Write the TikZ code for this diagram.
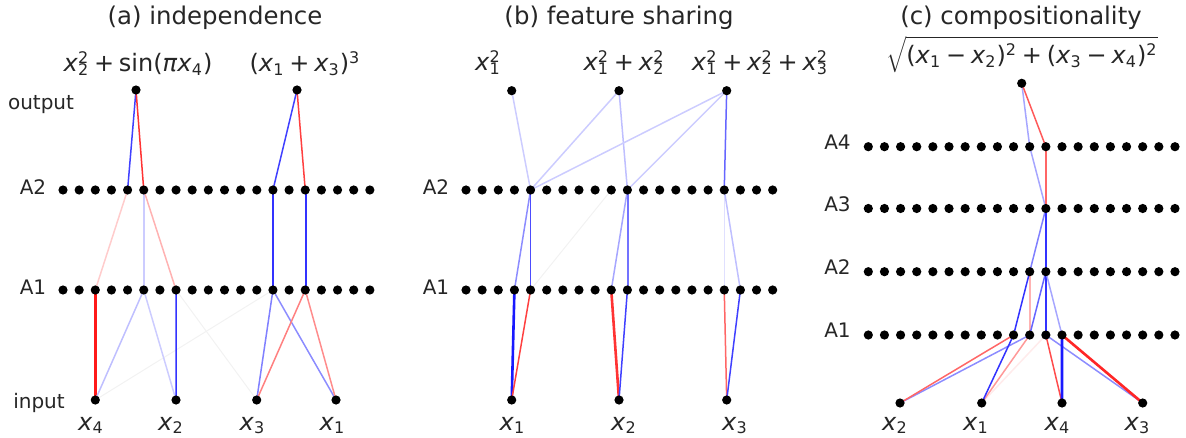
\documentclass[tikz,border=0pt]{standalone}
\usepackage{fontspec}
\setmainfont{DejaVu Sans}
\usepackage{tikz}
\usetikzlibrary{backgrounds}

\newcommand{\xs}[1]{\textit{x}\textsubscript{#1}}
\newcommand{\xsq}[1]{\textit{x}\rlap{\textsuperscript{2}}\textsubscript{#1}}
\newcommand{\bop}[1]{\hspace{0.2em}#1\hspace{0.2em}}

\tikzset{
  dot/.style={circle,fill=black,inner sep=0pt,minimum size=4.6pt},
  lbl/.style={font=\fontsize{10}{12}\selectfont,text=black!85},
  ttl/.style={font=\fontsize{12.2}{14}\selectfont,text=black!85},
  fml/.style={font=\fontsize{12}{14}\selectfont,text=black!85,anchor=base},
  pw/.style={draw=red!#1!white,line width=0.75pt},
  nw/.style={draw=blue!#1!white,line width=0.75pt},
  strong/.style={line width=1.3pt},
  ghost/.style={draw=black!5,line width=0.5pt}
}

\begin{document}
\begin{tikzpicture}[x=0.5pt,y=-0.5pt]
  \useasboundingbox (0,0) rectangle (1186,438);

  % (a) independence
  \node[ttl] (atitle) at (215,18) {(a) independence};
  \foreach \i in {0,...,19} {
    \node[dot] (aL2-\i) at ({63+\i*16.15},190) {};
    \node[dot] (aL1-\i) at ({63+\i*16.15},290) {};
  }
  \node[dot] (aout1) at (136,90) {};
  \node[dot] (aout2) at (297,90) {};
  \node[dot] (ax4) at (95.3,400) {};
  \node[dot] (ax2) at (176,400) {};
  \node[dot] (ax3) at (256.7,400) {};
  \node[dot] (ax1) at (336,400) {};

  \node[lbl] (aoutlbl) at (41,105) {output};
  \node[lbl] (aA2) at (33,187) {A2};
  \node[lbl] (aA1) at (33,287.5) {A1};
  \node[lbl,anchor=base] (ainlbl) at (39,408) {input};
  \node[fml] (af1) at (138,72) {\xsq{2}\bop{+}sin(\textit{π}\xs{4})};
  \node[fml] (af2) at (305,72) {(\xs{1}\bop{+}\xs{3})\textsuperscript{3}};
  \node[fml] (ax4l) at (91,430) {\xs{4}};
  \node[fml] (ax2l) at (171,430) {\xs{2}};
  \node[fml] (ax3l) at (252.5,430) {\xs{3}};
  \node[fml] (ax1l) at (332.5,430) {\xs{1}};

  \begin{scope}[on background layer]
  \draw[ghost] (ax4.center) -- (aL1-13.center);
  \draw[ghost] (aL1-7.center) -- (ax3.center);
  \draw[nw=75] (aout1.center) -- (aL2-4.center);
  \draw[pw=80] (aout1.center) -- (aL2-5.center);
  \draw[nw=75] (aout2.center) -- (aL2-13.center);
  \draw[pw=75] (aout2.center) -- (aL2-15.center);
  \draw[pw=20] (aL2-4.center) -- (aL1-2.center);
  \draw[nw=20] (aL2-5.center) -- (aL1-5.center);
  \draw[pw=30] (aL2-5.center) -- (aL1-7.center);
  \draw[nw=80] (aL2-13.center) -- (aL1-13.center);
  \draw[nw=80] ([xshift=0.25pt]aL2-15.center) -- ([xshift=0.25pt]aL1-15.center);
  \draw[pw=90,strong] (aL1-2.center) -- (ax4.center);
  \draw[nw=25] (aL1-5.center) -- (ax4.center);
  \draw[nw=20] (aL1-5.center) -- (ax2.center);
  \draw[nw=80] (aL1-7.center) -- (ax2.center);
  \draw[nw=50] (aL1-13.center) -- (ax3.center);
  \draw[nw=45] (aL1-13.center) -- (ax1.center);
  \draw[pw=50] (aL1-15.center) -- (ax3.center);
  \draw[pw=45] (aL1-15.center) -- (ax1.center);
  \end{scope}

  % (b) feature sharing
  \node[ttl] (btitle) at (619,18) {(b) feature sharing};
  \foreach \i in {0,...,19} {
    \node[dot] (bL2-\i) at ({466+\i*16.14},190) {};
    \node[dot] (bL1-\i) at ({466+\i*16.14},290) {};
  }
  \node[dot] (bout1) at (511.7,90.7) {};
  \node[dot] (bout2) at (619,90.7) {};
  \node[dot] (bout3) at (726.7,90.7) {};
  \node[dot] (bx1) at (511.7,400) {};
  \node[dot] (bx2) at (619,400) {};
  \node[dot] (bx3) at (726.7,400) {};

  \node[lbl] (bA2) at (436,187) {A2};
  \node[lbl] (bA1) at (436,287.5) {A1};
  \node[fml] (bf1) at (488,71) {\xsq{1}};
  \node[fml] (bf2) at (624,71) {\xsq{1}\bop{+}\xsq{2}};
  \node[fml] (bf3) at (760,71) {\xsq{1}\bop{+}\xsq{2}\bop{+}\xsq{3}};
  \node[fml] (bx1l) at (512.5,430) {\xs{1}};
  \node[fml] (bx2l) at (624,430) {\xs{2}};
  \node[fml] (bx3l) at (735,430) {\xs{3}};

  \begin{scope}[on background layer]
  \draw[ghost] (bL1-4.center) -- (bL2-9.center);
  \draw[nw=20] (bout1.center) -- (bL2-4.center);
  \draw[nw=20] (bout2.center) -- (bL2-4.center);
  \draw[nw=25] (bout2.center) -- (bL2-10.center);
  \draw[nw=20] (bout3.center) -- (bL2-4.center);
  \draw[nw=20] (bout3.center) -- (bL2-10.center);
  \draw[nw=60] (bout3.center) -- (bL2-16.center);
  \draw[nw=45] (bL2-4.center) -- (bL1-3.center);
  \draw[nw=70] (bL2-4.center) -- (bL1-4.center);
  \draw[nw=35] (bL2-10.center) -- (bL1-9.center);
  \draw[nw=55] ([xshift=0.25pt]bL2-10.center) -- ([xshift=0.25pt]bL1-10.center);
  \draw[nw=12] (bL2-16.center) -- (bL1-16.center);
  \draw[nw=25] (bL2-16.center) -- (bL1-17.center);
  \draw[nw=90,strong] (bL1-3.center) -- (bx1.center);
  \draw[pw=75] (bL1-4.center) -- (bx1.center);
  \draw[pw=80,strong] (bL1-9.center) -- (bx2.center);
  \draw[nw=75] (bL1-10.center) -- (bx2.center);
  \draw[pw=60] (bL1-16.center) -- (bx3.center);
  \draw[nw=75] (bL1-17.center) -- (bx3.center);
  \end{scope}

  % (c) compositionality
  \node[ttl] (ctitle) at (1021,18) {(c) compositionality};
  \foreach \l/\y in {4/146.7,3/208.5,2/271.7,1/335} {
    \foreach \i in {0,...,19}
      \node[dot] (cL\l-\i) at ({868.3+\i*16.14},\y) {};
  }
  \node[dot] (cout) at (1021.7,83.3) {};
  \node[dot] (cx2) at (900,403) {};
  \node[dot] (cx1) at (981.7,403) {};
  \node[dot] (cx4) at (1062,403) {};
  \node[dot] (cx3) at (1142.7,403) {};

  \node[lbl] (cA4) at (837.5,142.5) {A4};
  \node[lbl] (cA3) at (837.5,204) {A3};
  \node[lbl] (cA2) at (837.5,266.7) {A2};
  \node[lbl] (cA1) at (837.5,330) {A1};
  \node[fml] (cf) at (1022,64)
    {$\sqrt{\mbox{(\xs{1}\bop{−}\xs{2})\textsuperscript{2}\bop{+}(\xs{3}\bop{−}\xs{4})\textsuperscript{2}}}$};
  \node[fml] (cx2l) at (895,430) {\xs{2}};
  \node[fml] (cx1l) at (976,430) {\xs{1}};
  \node[fml] (cx4l) at (1057.5,430) {\xs{4}};
  \node[fml] (cx3l) at (1137.5,430) {\xs{3}};

  \begin{scope}[on background layer]
  \draw[nw=35] (cout.center) -- (cL4-10.center);
  \draw[pw=65] (cout.center) -- (cL4-11.center);
  \draw[nw=35] (cL4-10.center) -- (cL3-11.center);
  \draw[pw=60] (cL4-11.center) -- (cL3-11.center);
  \draw[nw=50] (cL3-11.center) -- (cL2-10.center);
  \draw[nw=80] (cL3-11.center) -- (cL2-11.center);
  \draw[pw=30] ([xshift=0.25pt]cL2-10.center) -- ([xshift=0.25pt]cL1-10.center);
  \draw[nw=80] (cL2-10.center) -- (cL1-9.center);
  \draw[nw=60] (cL2-11.center) -- (cL1-10.center);
  \draw[nw=80] (cL2-11.center) -- (cL1-11.center);
  \draw[nw=35] (cL2-11.center) -- (cL1-12.center);
  \draw[pw=8] (cL1-11.center) -- (cx1.center);
  \draw[pw=40] (cL1-10.center) -- (cx1.center);
  \draw[nw=45] (cL1-10.center) -- (cx2.center);
  \draw[pw=60] (cL1-9.center) -- (cx2.center);
  \draw[nw=80] (cL1-9.center) -- (cx1.center);
  \draw[pw=70] (cL1-11.center) -- (cx4.center);
  \draw[nw=45] (cL1-11.center) -- (cx3.center);
  \draw[nw=90,strong] (cL1-12.center) -- (cx4.center);
  \draw[pw=85,strong] (cL1-12.center) -- (cx3.center);
  \end{scope}
\end{tikzpicture}
\end{document}
